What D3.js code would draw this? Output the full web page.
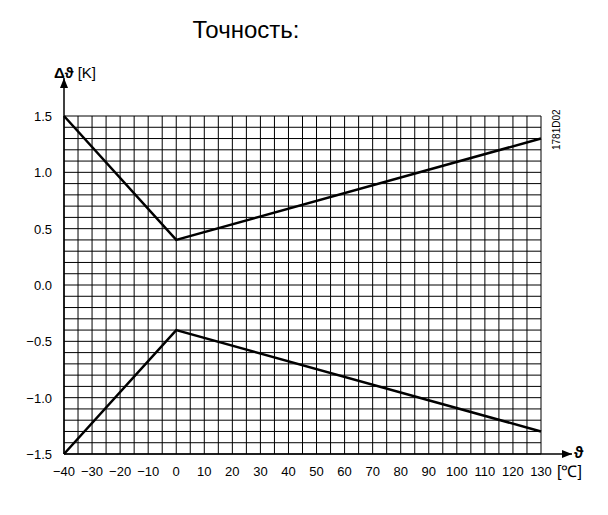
<!DOCTYPE html>
<html><head><meta charset="utf-8">
<script src="https://cdn.jsdelivr.net/npm/d3@7"></script>
<style>body{margin:0;background:#fff}text{font-family:Arial,"Liberation Sans",sans-serif}</style>
</head><body><div id="chart"></div>
<script>
var width = 608, height = 515;
var xTicks = [-40,-30,-20,-10,0,10,20,30,40,50,60,70,80,90,100,110,120,130];
var yTicks = [1.5,1.0,0.5,0.0,-0.5,-1.0,-1.5];
var yLabels = ["1.5","1.0","0.5","0.0","\u22120.5","\u22121.0","\u22121.5"];
var upper = [[-40,1.5],[0,0.4],[130,1.3]];
var lower = [[-40,-1.5],[0,-0.4],[130,-1.3]];

var svg = d3.select("#chart").append("svg").attr("width", width).attr("height", height);
var x = d3.scaleLinear().domain([-40,130]).range([64,541]);
var y = d3.scaleLinear().domain([-1.5,1.5]).range([454,116]);

svg.append("text").attr("x",246).attr("y",38).attr("text-anchor","middle")
  .attr("font-size",24).text("Точность:");

// fine grid
var g = svg.append("g").attr("stroke","#000").attr("stroke-width",1);
d3.range(-40,131,5).forEach(function(v){
  g.append("line").attr("x1",x(v)).attr("x2",x(v)).attr("y1",y(-1.5)).attr("y2",y(1.5));
});
d3.range(-15,16).forEach(function(k){
  var v=k/10;
  g.append("line").attr("x1",x(-40)).attr("x2",x(130)).attr("y1",y(v)).attr("y2",y(v));
});

// axes with arrows
svg.append("defs").append("marker").attr("id","arr").attr("viewBox","0 0 10 10")
  .attr("refX",10).attr("refY",5).attr("markerWidth",10).attr("markerHeight",10)
  .attr("markerUnits","userSpaceOnUse").attr("orient","auto")
  .append("path").attr("d","M0,1L10,5L0,9Z");
svg.append("line").attr("x1",x(-40)).attr("x2",x(-40)).attr("y1",y(-1.5)).attr("y2",78)
  .attr("stroke","#000").attr("stroke-width",1.5).attr("marker-end","url(#arr)");
svg.append("line").attr("x1",x(-40)).attr("x2",572).attr("y1",y(-1.5)).attr("y2",y(-1.5))
  .attr("stroke","#000").attr("stroke-width",1.5).attr("marker-end","url(#arr)");

// ticks
svg.append("g").selectAll("text").data(xTicks).enter().append("text")
  .attr("x",function(d){return x(d);}).attr("y",476).attr("text-anchor","middle")
  .attr("font-size",13).text(function(d){return d<0?"\u2212"+(-d):d;});
svg.append("g").selectAll("text").data(yTicks).enter().append("text")
  .attr("x",52).attr("y",function(d){return y(d)+5;}).attr("text-anchor","end")
  .attr("font-size",13).text(function(d,i){return yLabels[i];});

svg.append("text").attr("x",54).attr("y",78).attr("font-size",15)
  .html('<tspan font-weight="bold">Δϑ</tspan> [K]');
svg.append("text").attr("x",574).attr("y",458).attr("font-size",16).attr("font-weight","bold").text("ϑ");
svg.append("text").attr("x",557).attr("y",477).attr("font-size",16).text("[℃]");
svg.append("text").attr("transform","translate(560,150) rotate(-90)").attr("font-size",10).text("1781D02");

var line = d3.line().x(function(d){return x(d[0]);}).y(function(d){return y(d[1]);});
[upper,lower].forEach(function(s){
  svg.append("path").attr("d",line(s)).attr("fill","none").attr("stroke","#000").attr("stroke-width",2.5);
});
</script></body></html>
